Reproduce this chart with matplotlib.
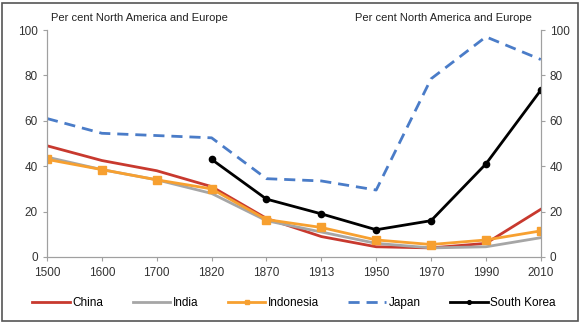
import matplotlib.pyplot as plt
from matplotlib.patches import Rectangle

plt.rcParams['font.family'] = ['Liberation Sans', 'DejaVu Sans']

years = ["1500", "1600", "1700", "1820", "1870", "1913", "1950", "1970", "1990", "2010"]
china = [49, 42.5, 38, 31, 17, 9, 4.5, 4, 6, 21]
india = [44, 38.5, 34, 28, 16, 11, 6, 4, 4.5, 8.5]
indonesia = [43, 38.5, 34, 30, 16.5, 13, 7.5, 5.5, 7.5, 11.5]
japan = [61, 54.5, 53.5, 52.5, 34.5, 33.5, 29.5, 78.5, 97, 87]
korea_years = ["1820", "1870", "1913", "1950", "1970", "1990", "2010"]
south_korea = [43, 25.5, 19, 12, 16, 41, 73.5]

fig = plt.figure(figsize=(5.84, 3.28), dpi=100)
ax = fig.add_axes([0.0805, 0.2165, 0.8455, 0.692])

x = list(range(len(years)))
kx = [years.index(y) for y in korea_years]

ax.plot(x, china, color='#C8392E', lw=2, label='China')
ax.plot(x, india, color='#A6A6A6', lw=2, label='India')
ax.plot(x, indonesia, color='#F7A030', lw=2, marker='s', ms=5.5, label='Indonesia')
ax.plot(x, japan, color='#4A7CC8', lw=2, ls=(0, (4, 2.5)), label='Japan')
ax.plot(kx, south_korea, color='black', lw=2, marker='o', ms=4.5, label='South Korea')

ax.set_xlim(0, len(years) - 1)
ax.set_ylim(0, 100)
ax.set_xticks(x)
ax.set_xticklabels(years)
ax.set_yticks(range(0, 101, 20))

ax2 = ax.twinx()
ax2.set_ylim(0, 100)
ax2.set_yticks(range(0, 101, 20))

for a in (ax, ax2):
    for s in a.spines.values():
        s.set_color('#A0A0A0')
    a.spines['top'].set_visible(False)
    a.tick_params(colors='#A0A0A0', labelcolor='#333333', labelsize=8.5, length=3, width=0.8)
ax.tick_params(axis='x', pad=4)

fig.text(0.088, 0.935, "Per cent North America and Europe", fontsize=8, color='#222222')
fig.text(0.91, 0.935, "Per cent North America and Europe", fontsize=8, color='#222222', ha='right')

ax.legend(loc='upper center', bbox_to_anchor=(0.5, -0.13), ncol=5, frameon=False,
          fontsize=8.5, handlelength=3.2, handletextpad=0.2, columnspacing=2.5,
          markerscale=0.6)

fig.add_artist(Rectangle((0.004, 0.02), 0.985, 0.97, transform=fig.transFigure,
                         fill=False, edgecolor='#555555', lw=1.2))

fig.savefig("out.png", dpi=100)
